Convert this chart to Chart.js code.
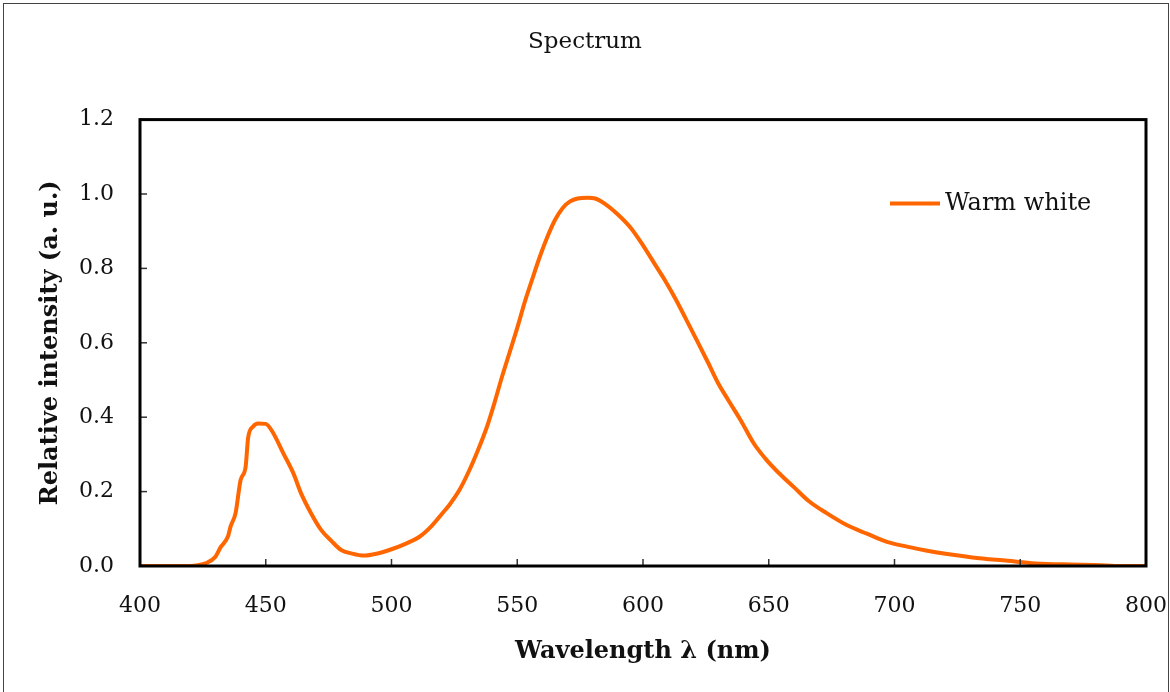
<!DOCTYPE html>
<html>
<head>
<meta charset="utf-8">
<title>Spectrum</title>
<script src="https://cdn.jsdelivr.net/npm/chart.js@4"></script>
<style>
    html, body { margin: 0; padding: 0; background: #fff; overflow: hidden; }
    #wrap { position: relative; width: 1170px; height: 692px; }
    #frame {
        position: absolute; left: 3px; top: 3px;
        width: 1164px; height: 720px;
        border: 1px solid #444; pointer-events: none;
    }
</style>
</head>
<body>
<div id="wrap">
    <canvas id="chart" width="1170" height="692"></canvas>
    <div id="frame"></div>
</div>
<script>
/* ============================================================
   DATA
============================================================ */

const wavelengths = [
    400, 405, 410, 415, 420, 423, 426, 430, 432, 435, 436, 438, 440, 442, 443, 445, 447, 450,
    453, 457, 461, 464, 468, 472, 476, 480, 484, 489, 494, 500, 506, 511, 516, 520,
    523, 527, 531, 534, 538, 541, 544, 547, 550, 553, 556, 559, 562, 565, 568, 571,
    574, 578, 581, 585, 590, 595, 600, 605, 609, 613, 617, 621, 626, 630, 634,
    639, 644, 649, 654, 660, 666, 673, 681, 689, 697, 705, 713, 721, 731, 745, 756,
    770, 780, 790, 800
];

const warmWhite = [
    0, 0, 0, 0, 0, 0.002, 0.007, 0.025, 0.05, 0.08, 0.106, 0.142, 0.231, 0.267, 0.345, 0.375, 0.383, 0.382,
    0.357, 0.303, 0.249, 0.196, 0.142, 0.097, 0.068, 0.043, 0.034, 0.028, 0.033, 0.045, 0.061, 0.078, 0.108, 0.14,
    0.164, 0.204, 0.258, 0.305, 0.375, 0.44, 0.51, 0.575, 0.64, 0.71, 0.772, 0.832, 0.885, 0.93, 0.962, 0.98,
    0.988, 0.99, 0.988, 0.973, 0.945, 0.91, 0.862, 0.808, 0.765, 0.717, 0.665, 0.612, 0.545, 0.49, 0.445,
    0.39, 0.33, 0.286, 0.25, 0.212, 0.174, 0.142, 0.11, 0.087, 0.065, 0.052, 0.041, 0.032, 0.023, 0.014, 0.007,
    0.004, 0.003, 0, 0
];

const seriesLabel = "Warm white";
const chartTitle = "Spectrum";
const xTitle = "Wavelength \u03bb (nm)";
const yTitle = "Relative intensity (a. u.)";

const FONT = "'DejaVu Serif', 'Liberation Serif', serif";
const ORANGE = "#ff6600";


/* ============================================================
   PLUGIN: frame, inward ticks, legend inside plot
============================================================ */

const framePlugin = {
    id: "frameTicksLegend",
    afterDatasetsDraw(chart) {
        const { ctx, chartArea: a, scales } = chart;
        ctx.save();

        // inward tick marks
        ctx.strokeStyle = "#333";
        ctx.lineWidth = 1.5;
        scales.x.ticks.forEach(t => {
            const px = scales.x.getPixelForValue(t.value);
            ctx.beginPath();
            ctx.moveTo(px, a.bottom);
            ctx.lineTo(px, a.bottom - 7);
            ctx.stroke();
        });
        scales.y.ticks.forEach(t => {
            const py = scales.y.getPixelForValue(t.value);
            ctx.beginPath();
            ctx.moveTo(a.left, py);
            ctx.lineTo(a.left + 7, py);
            ctx.stroke();
        });

        // plot frame
        ctx.strokeStyle = "#000";
        ctx.lineWidth = 3;
        ctx.strokeRect(a.left, a.top, a.right - a.left, a.bottom - a.top);

        // legend
        const ds = chart.data.datasets[0];
        const ly = a.top + 84;
        const lx = a.right - 256;
        ctx.strokeStyle = ds.borderColor;
        ctx.lineWidth = 4;
        ctx.beginPath();
        ctx.moveTo(lx, ly);
        ctx.lineTo(lx + 50, ly);
        ctx.stroke();
        ctx.fillStyle = "#111";
        ctx.font = "24px " + FONT;
        ctx.textBaseline = "middle";
        ctx.fillText(ds.label, lx + 55, ly);

        ctx.restore();
    }
};


/* ============================================================
   CHART
============================================================ */

const ctx = document.getElementById("chart").getContext("2d");

new Chart(ctx, {
    type: "line",
    data: {
        datasets: [{
            label: seriesLabel,
            data: wavelengths.map((w, i) => ({ x: w, y: warmWhite[i] })),
            borderColor: ORANGE,
            borderWidth: 4,
            pointRadius: 0,
            fill: false,
            cubicInterpolationMode: "monotone"
        }]
    },
    options: {
        responsive: false,
        animation: false,
        devicePixelRatio: 1,
        layout: { padding: 0 },
        plugins: {
            legend: { display: false },
            tooltip: { enabled: false },
            title: {
                display: true,
                text: chartTitle,
                color: "#111",
                font: { family: FONT, size: 23, weight: "normal" },
                padding: { top: 28, bottom: 64 }
            }
        },
        scales: {
            x: {
                type: "linear",
                min: 400,
                max: 800,
                ticks: {
                    stepSize: 50,
                    color: "#111",
                    padding: 27,
                    maxRotation: 0,
                    font: { family: FONT, size: 22 }
                },
                grid: { display: false, drawTicks: false },
                border: { display: false },
                title: {
                    display: true,
                    text: xTitle,
                    color: "#111",
                    font: { family: FONT, size: 24, weight: "bold" },
                    padding: { top: 0, bottom: 26 }
                },
                afterFit: s => {
                    s.height = 126;
                    s.paddingLeft = 0;
                    s.paddingRight = 24;
                }
            },
            y: {
                min: 0,
                max: 1.2,
                ticks: {
                    stepSize: 0.2,
                    color: "#111",
                    padding: 26,
                    font: { family: FONT, size: 22 },
                    callback: v => Number(v).toFixed(1)
                },
                grid: { display: false, drawTicks: false },
                border: { display: false },
                title: {
                    display: true,
                    text: yTitle,
                    color: "#111",
                    font: { family: FONT, size: 24, weight: "bold" },
                    padding: { top: 36, bottom: 0 }
                },
                afterFit: s => {
                    s.width = 140;
                    s.paddingTop = 0;
                    s.paddingBottom = 0;
                }
            }
        }
    },
    plugins: [framePlugin]
});
</script>
</body>
</html>
